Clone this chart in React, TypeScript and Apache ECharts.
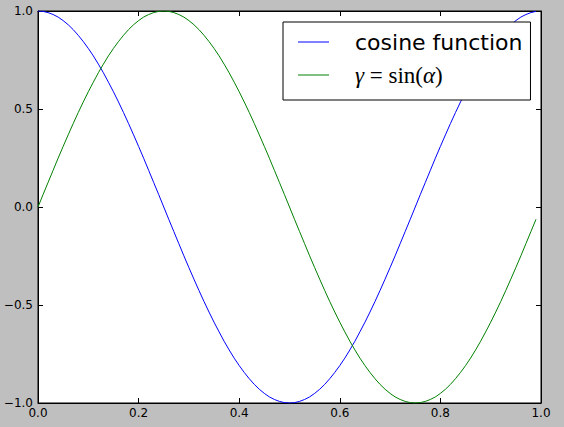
import React, { useEffect, useRef } from "react";
import * as echarts from "echarts";

// Sampling grid (x): 0.00 .. 0.99 step 0.01
const xValues = [
  0.0, 0.01, 0.02, 0.03, 0.04, 0.05, 0.06, 0.07, 0.08, 0.09,
  0.1, 0.11, 0.12, 0.13, 0.14, 0.15, 0.16, 0.17, 0.18, 0.19,
  0.2, 0.21, 0.22, 0.23, 0.24, 0.25, 0.26, 0.27, 0.28, 0.29,
  0.3, 0.31, 0.32, 0.33, 0.34, 0.35, 0.36, 0.37, 0.38, 0.39,
  0.4, 0.41, 0.42, 0.43, 0.44, 0.45, 0.46, 0.47, 0.48, 0.49,
  0.5, 0.51, 0.52, 0.53, 0.54, 0.55, 0.56, 0.57, 0.58, 0.59,
  0.6, 0.61, 0.62, 0.63, 0.64, 0.65, 0.66, 0.67, 0.68, 0.69,
  0.7, 0.71, 0.72, 0.73, 0.74, 0.75, 0.76, 0.77, 0.78, 0.79,
  0.8, 0.81, 0.82, 0.83, 0.84, 0.85, 0.86, 0.87, 0.88, 0.89,
  0.9, 0.91, 0.92, 0.93, 0.94, 0.95, 0.96, 0.97, 0.98, 0.99,
];

const cosineValues = [
  1.0, 0.998, 0.992, 0.982, 0.969, 0.951, 0.93, 0.905, 0.876, 0.844,
  0.809, 0.771, 0.729, 0.685, 0.637, 0.588, 0.536, 0.482, 0.426, 0.368,
  0.309, 0.249, 0.187, 0.125, 0.063, 0.0, -0.063, -0.125, -0.187, -0.249,
  -0.309, -0.368, -0.426, -0.482, -0.536, -0.588, -0.637, -0.685, -0.729, -0.771,
  -0.809, -0.844, -0.876, -0.905, -0.93, -0.951, -0.969, -0.982, -0.992, -0.998,
  -1.0, -0.998, -0.992, -0.982, -0.969, -0.951, -0.93, -0.905, -0.876, -0.844,
  -0.809, -0.771, -0.729, -0.685, -0.637, -0.588, -0.536, -0.482, -0.426, -0.368,
  -0.309, -0.249, -0.187, -0.125, -0.063, 0.0, 0.063, 0.125, 0.187, 0.249,
  0.309, 0.368, 0.426, 0.482, 0.536, 0.588, 0.637, 0.685, 0.729, 0.771,
  0.809, 0.844, 0.876, 0.905, 0.93, 0.951, 0.969, 0.982, 0.992, 0.998,
];

const sineValues = [
  0.0, 0.063, 0.125, 0.187, 0.249, 0.309, 0.368, 0.426, 0.482, 0.536,
  0.588, 0.637, 0.685, 0.729, 0.771, 0.809, 0.844, 0.876, 0.905, 0.93,
  0.951, 0.969, 0.982, 0.992, 0.998, 1.0, 0.998, 0.992, 0.982, 0.969,
  0.951, 0.93, 0.905, 0.876, 0.844, 0.809, 0.771, 0.729, 0.685, 0.637,
  0.588, 0.536, 0.482, 0.426, 0.368, 0.309, 0.249, 0.187, 0.125, 0.063,
  0.0, -0.063, -0.125, -0.187, -0.249, -0.309, -0.368, -0.426, -0.482, -0.536,
  -0.588, -0.637, -0.685, -0.729, -0.771, -0.809, -0.844, -0.876, -0.905, -0.93,
  -0.951, -0.969, -0.982, -0.992, -0.998, -1.0, -0.998, -0.992, -0.982, -0.969,
  -0.951, -0.93, -0.905, -0.876, -0.844, -0.809, -0.771, -0.729, -0.685, -0.637,
  -0.588, -0.536, -0.482, -0.426, -0.368, -0.309, -0.249, -0.187, -0.125, -0.063,
];

const xTicks = [0.0, 0.2, 0.4, 0.6, 0.8, 1.0];
const yTicks = [-1.0, -0.5, 0.0, 0.5, 1.0];
const seriesNames = ["cosine function", "γ=sin(α)"];
const seriesColors = ["#0000ff", "#008000"];

const fmt = (v: number) => {
  const s = v.toFixed(1);
  return s.startsWith("-") ? "\u2212" + s.slice(1) : s;
};

export default function App() {
  const ref = useRef<HTMLDivElement | null>(null);

  useEffect(() => {
    if (!ref.current) return;
    const chart = echarts.init(ref.current, undefined, { renderer: "svg" });

    const xStep = xTicks[1] - xTicks[0];
    const yStep = yTicks[1] - yTicks[0];
    const xMin = xTicks[0];
    const xMax = xTicks[xTicks.length - 1];
    const yMin = yTicks[0];
    const yMax = yTicks[yTicks.length - 1];

    const axisBase = {
      type: "value" as const,
      axisLine: { show: true, onZero: false, lineStyle: { color: "#000", width: 1 } },
      axisTick: { show: true, inside: true, length: 5, lineStyle: { color: "#000", width: 1 } },
      splitLine: { show: false },
    };
    const labelBase = {
      color: "#000",
      fontSize: 12,
      fontFamily: "DejaVu Sans",
      showMinLabel: true,
      showMaxLabel: true,
      formatter: (v: number) => fmt(v),
    };

    const option: any = {
      animation: false,
      backgroundColor: "#bfbfbf",
      grid: {
        left: 38,
        top: 11,
        right: 23,
        bottom: 24,
        show: true,
        backgroundColor: "#ffffff",
        borderColor: "#000",
        borderWidth: 1,
        containLabel: false,
      },
      xAxis: [
        {
          ...axisBase,
          position: "bottom",
          min: xMin,
          max: xMax,
          interval: xStep,
          axisLabel: { ...labelBase, margin: 4 },
        },
        {
          ...axisBase,
          position: "top",
          min: xMin,
          max: xMax,
          interval: xStep,
          axisLabel: { show: false },
        },
      ],
      yAxis: [
        {
          ...axisBase,
          position: "left",
          min: yMin,
          max: yMax,
          interval: yStep,
          axisLabel: { ...labelBase, margin: 5 },
        },
        {
          ...axisBase,
          position: "right",
          min: yMin,
          max: yMax,
          interval: yStep,
          axisLabel: { show: false },
        },
      ],
      legend: {
        show: true,
        orient: "vertical",
        left: 283,
        top: 22,
        padding: [7, 8, 12, 15],
        itemGap: 7,
        icon: "rect",
        itemWidth: 31,
        itemHeight: 1,
        borderColor: "#000",
        borderWidth: 1,
        borderRadius: 0,
        backgroundColor: "#ffffff",
        selectedMode: false,
        data: seriesNames,
        formatter: (name: string) =>
          name === seriesNames[1] ? "{i|γ}{r| = sin(}{i|α}{r|)}" : name,
        textStyle: {
          fontSize: 22,
          fontFamily: "DejaVu Sans",
          color: "#000",
          lineHeight: 26,
          padding: [0, 0, 0, 21],
          rich: {
            i: {
              fontFamily: "Liberation Serif",
              fontStyle: "italic",
              fontSize: 23,
              lineHeight: 26,
              color: "#000",
            },
            r: {
              fontFamily: "Liberation Serif",
              fontSize: 23,
              lineHeight: 26,
              color: "#000",
            },
          },
        },
      },
      series: seriesNames.map((name, si) => ({
        name,
        type: "line",
        xAxisIndex: 0,
        yAxisIndex: 0,
        symbol: "none",
        showSymbol: false,
        smooth: false,
        color: seriesColors[si],
        itemStyle: { color: seriesColors[si] },
        lineStyle: { color: seriesColors[si], width: 1 },
        data: xValues.map((x, i) => [x, si === 0 ? cosineValues[i] : sineValues[i]]),
      })),
    };

    chart.setOption(option);
    return () => chart.dispose();
  }, []);

  return (
    <div
      ref={ref}
      style={{ position: "fixed", left: 0, top: 0, width: 564, height: 427 }}
    />
  );
}
